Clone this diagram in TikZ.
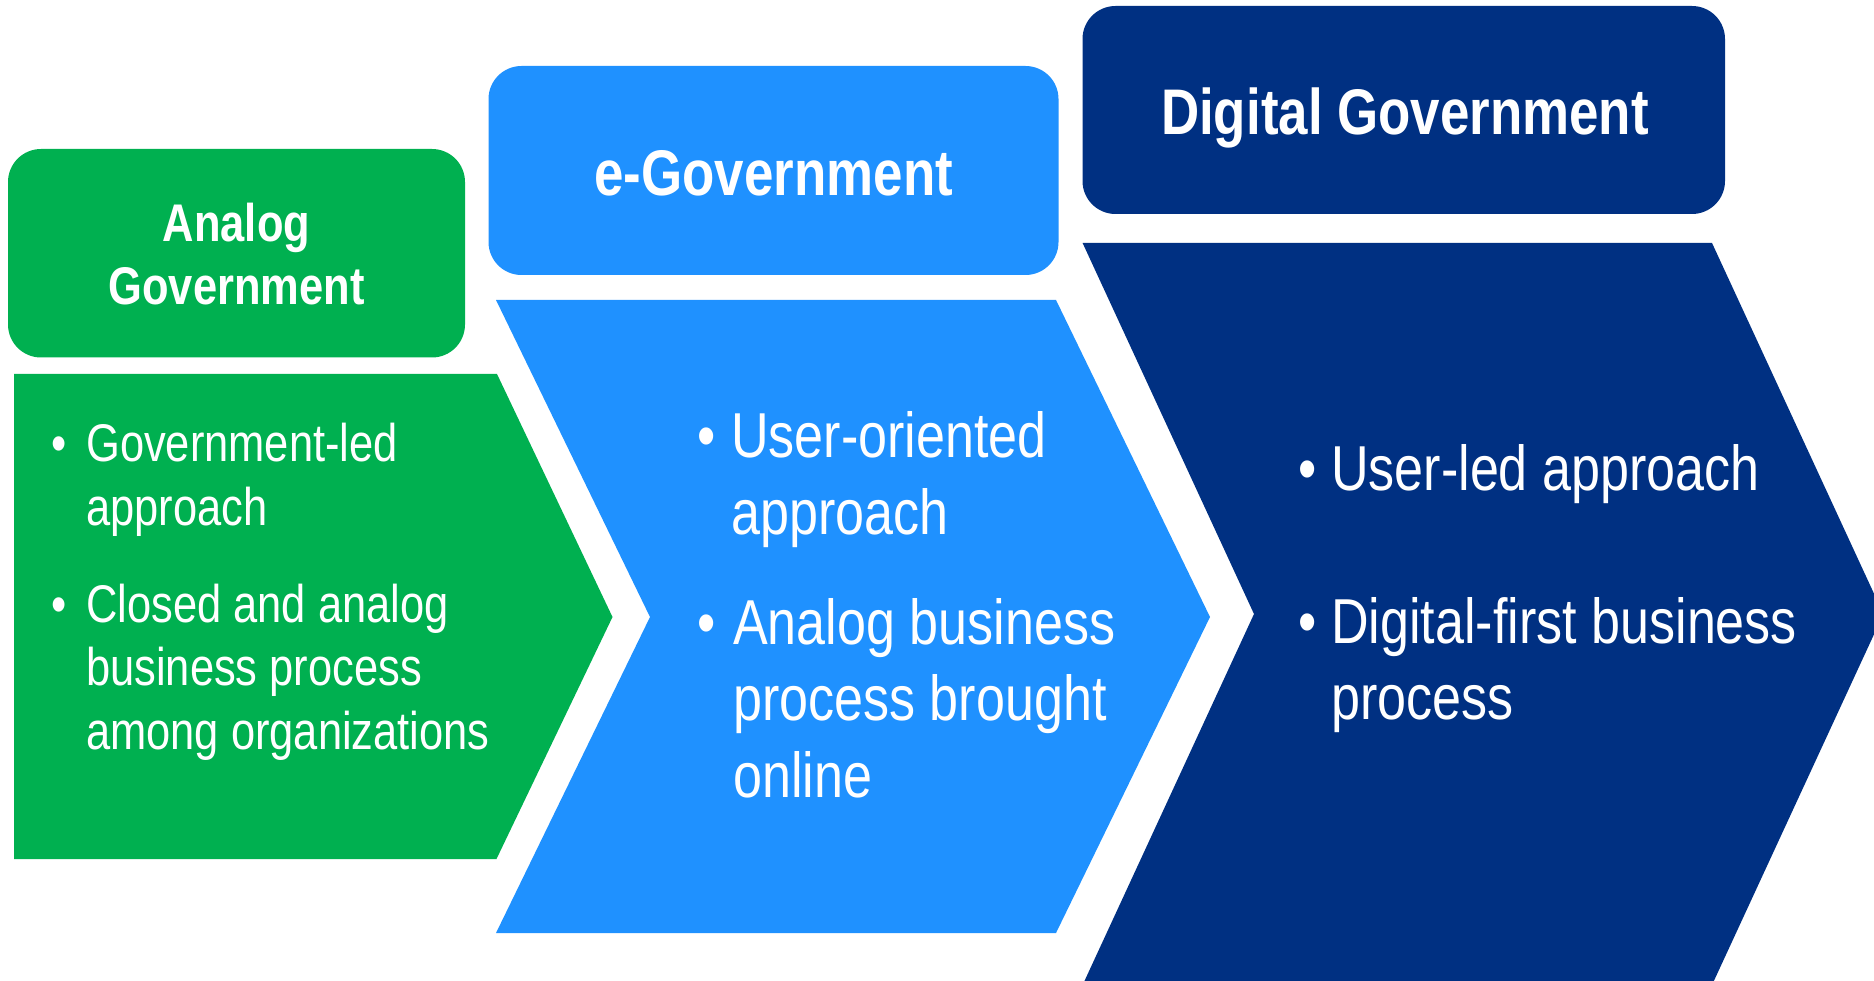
\documentclass[tikz,border=0pt]{standalone}
\usepackage{fontspec}
\setmainfont{Liberation Sans}[FakeStretch=0.82]
\definecolor{agreen}{RGB}{0,176,80}
\definecolor{eblue}{RGB}{31,145,255}
\definecolor{dnavy}{RGB}{0,48,130}
\tikzset{
  hdrbox/.style={rounded corners=33pt, inner sep=0pt, draw=none},
  hdrtxt/.style={text=white, inner sep=0pt, align=center, anchor=base},
  bodyS/.style={text=white, inner sep=0pt, align=left, anchor=base west, font=\fontsize{53}{63.5}\selectfont},
  bodyL/.style={text=white, inner sep=0pt, align=left, anchor=base west, font=\fontsize{63.5}{76.5}\selectfont},
}
\begin{document}
\begin{tikzpicture}[x=1pt,y=-1pt]
\useasboundingbox (0,0) rectangle (1874,981);
\clip (0,0) rectangle (1874,981);

% headers
\node[hdrbox, fill=agreen, minimum width=457pt, minimum height=208.5pt] (hA) at (236.5,253.25) {};
\node[hdrbox, fill=eblue, minimum width=570pt, minimum height=209pt] (hB) at (773.5,170.5) {};
\node[hdrbox, fill=dnavy, minimum width=642.5pt, minimum height=208pt] (hC) at (1403.75,110) {};

% (multi-line nodes: base anchor = baseline of the last line)
\node[hdrtxt, font=\fontsize{53}{63.3}\selectfont\bfseries] (tA) at (236.5,305) {Analog\\Government};
\node[hdrtxt, font=\fontsize{64.5}{77}\selectfont\bfseries] (tB) at (773.7,195.7) {e-Government};
\node[hdrtxt, font=\fontsize{64.5}{77}\selectfont\bfseries] (tC) at (1405,135) {Digital Government};

% chevrons
\fill[agreen] (14,374) -- (497,374) -- (612.5,617) -- (496.5,859) -- (14,859) -- cycle;
\fill[eblue] (496,300) -- (1056,300) -- (1210,617) -- (1056,933) -- (496,933) -- (650,617) -- cycle;
\fill[dnavy] (1082.6,243) -- (1712,243) -- (1883.4,614) -- (1712,985) -- (1082.6,985) -- (1254,614) -- cycle;

% green bullets
\node[bodyS] (gb1) at (51,461.7) {•};
\node[bodyS] (g1) at (86,525.2) {Government-led\\approach};
\node[bodyS] (gb2) at (51,622) {•};
\node[bodyS] (g2) at (86,749) {Closed and analog\\business process\\among organizations};

% blue bullets
\node[bodyL] (bb1) at (697,457.8) {•};
\node[bodyL] (b1) at (731,534.3) {User-oriented\\approach};
\node[bodyL] (bb2) at (697,644.3) {•};
\node[bodyL] (b2) at (733,797.3) {Analog business\\process brought\\online};

% navy bullets
\node[bodyL] (db1) at (1298.6,490) {•};
\node[bodyL] (d1) at (1331,490) {User-led approach};
\node[bodyL] (db2) at (1298.6,643.3) {•};
\node[bodyL] (d2) at (1331,719.8) {Digital-first business\\process};
\end{tikzpicture}
\end{document}
